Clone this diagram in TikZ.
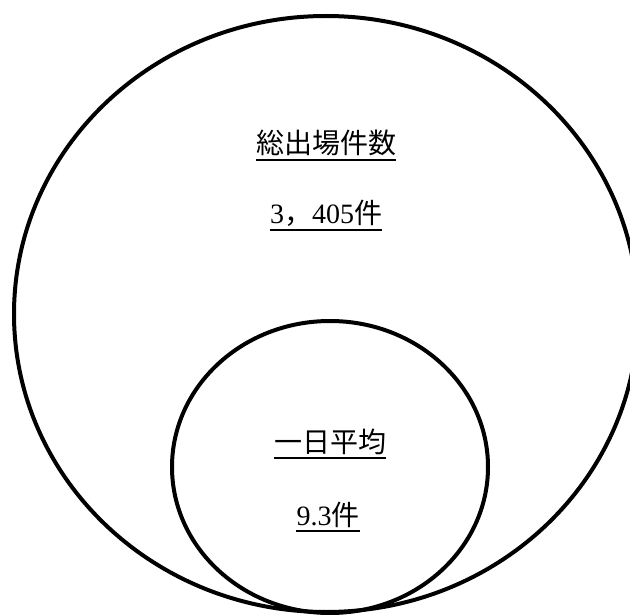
\documentclass[tikz,border=0pt]{standalone}
\usepackage{fontspec}
\setmainfont{Liberation Serif}
\newfontfamily\jpfont{Noto Sans CJK JP}
\usetikzlibrary{shapes,positioning}

\tikzset{
    ring/.style={ellipse, draw, line width=4pt, inner sep=0pt},
}

\begin{document}
\begin{tikzpicture}[x=1pt, y=-1pt, txt/.style={inner sep=0pt, anchor=base, font=\fontsize{28}{32}\selectfont}]
    \useasboundingbox (0,0) rectangle (630,615);
    \node[ring, minimum width=624pt, minimum height=596pt] (total) at (326,314) {};
    \node[ring, minimum width=316pt, minimum height=292pt] (daily) at (330,467) {};
    \node[txt] (totalname) at (326,154) {\jpfont 総出場件数};
    \node[txt] (totalnum) at (326,224) {3{\jpfont ，}405{\jpfont 件}};
    \node[txt] (dailyname) at (330,452) {\jpfont 一日平均};
    \node[txt] (dailynum) at (328,525) {9.3{\jpfont 件}};
    % underlines
    \foreach \n in {totalname,totalnum,dailyname,dailynum}
        \draw[line width=2pt] ([yshift=-6pt]\n.base west) -- ([yshift=-6pt]\n.base east);
\end{tikzpicture}
\end{document}
